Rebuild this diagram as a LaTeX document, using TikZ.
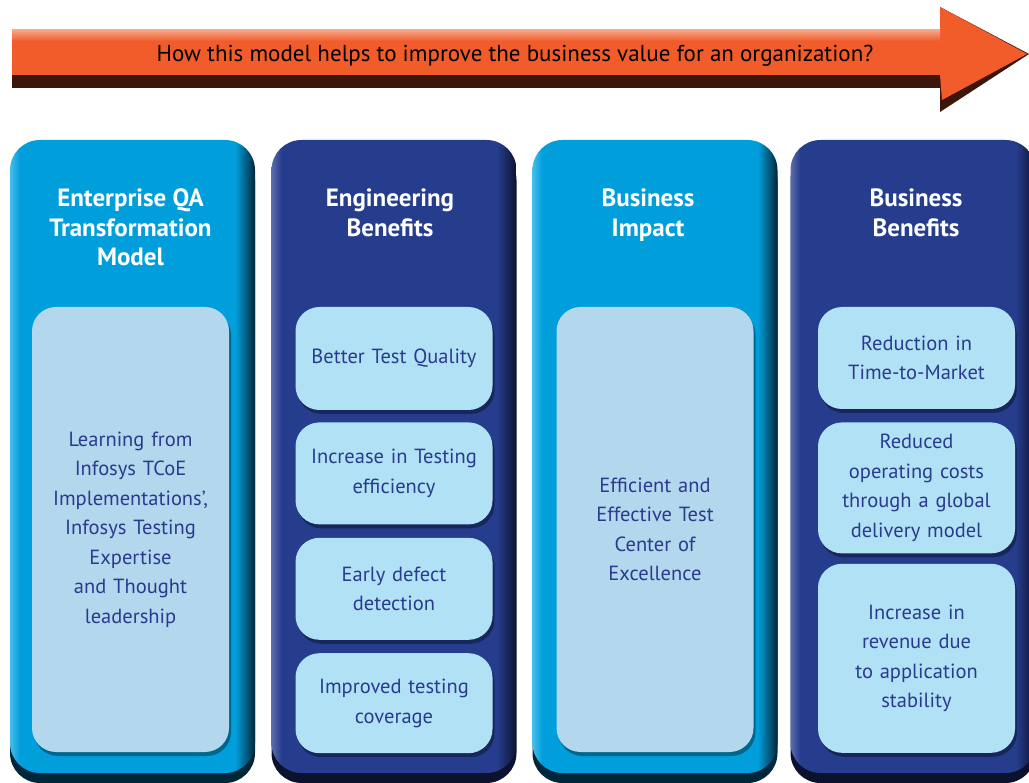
\documentclass[tikz,border=0pt]{standalone}
\usepackage{fontspec}
\setmainfont{PT Sans}
\usetikzlibrary{positioning,shadows}
\definecolor{arroworange}{RGB}{241,92,42}
\definecolor{arrowlight}{RGB}{246,165,135}
\definecolor{arrowdark}{RGB}{60,22,10}
\definecolor{cyanmain}{RGB}{0,158,219}
\definecolor{cyanedge}{RGB}{70,190,236}
\definecolor{cyandark}{RGB}{0,38,58}
\definecolor{navymain}{RGB}{38,61,141}
\definecolor{navyedge}{RGB}{92,108,172}
\definecolor{navydark}{RGB}{12,18,45}
\definecolor{palebox}{RGB}{179,215,236}
\definecolor{cyanbox}{RGB}{177,225,244}
\definecolor{boxtext}{RGB}{42,58,142}
\pgfdeclarehorizontalshading{cyancolumn}{100bp}{color(0bp)=(cyanedge); color(25bp)=(cyanedge); color(27bp)=(cyanmain); color(71bp)=(cyanmain); color(75bp)=(cyandark); color(100bp)=(cyandark)}
\pgfdeclarehorizontalshading{navycolumn}{100bp}{color(0bp)=(navyedge); color(25bp)=(navyedge); color(27bp)=(navymain); color(71bp)=(navymain); color(75bp)=(navydark); color(100bp)=(navydark)}

\begin{document}
\begin{tikzpicture}[x=1pt, y=-1pt,
    column/.style = {shade, rounded corners=30pt, minimum width=245pt, minimum height=633pt, inner sep=0pt},
    cyancol/.style = {column, shading=cyancolumn, drop shadow={shadow xshift=0pt, shadow yshift=-10pt, fill=cyandark, opacity=1}},
    navycol/.style = {column, shading=navycolumn, drop shadow={shadow xshift=0pt, shadow yshift=-10pt, fill=navydark, opacity=1}},
    header/.style = {text=white, font=\fontsize{25}{29.5}\selectfont\bfseries, align=center, inner sep=0pt},
    box/.style = {rounded corners=24pt, minimum width=197pt, text width=190pt, align=center, inner sep=0pt, text=boxtext, font=\fontsize{20.5}{29.5}\selectfont, drop shadow={shadow xshift=2pt, shadow yshift=-4pt, fill=black, opacity=0.35}},
    palefill/.style = {box, fill=palebox},
    cyanfill/.style = {box, fill=cyanbox}]
    \useasboundingbox (0,0) rectangle (1029,783);

    % question arrow
    \fill[arrowdark] (12,30) -- (940,30) -- (940,7) -- (1029,54) -- (940,112) -- (940,88) -- (12,88) -- cycle;
    \fill[arroworange] (12,30) -- (940,30) -- (940,7) -- (1027,54) -- (942,100) -- (940,75) -- (12,75) -- cycle;
    \fill[top color=arrowlight, bottom color=arroworange] (12,30) rectangle (940,41);
    \node (question) at (515,56) {\fontsize{23}{26}\selectfont How this model helps to improve the business value for an organization?};

    % columns
    \node[cyancol] (c1) at (132.5,456.5) {};
    \node[navycol] (c2) at (394,456.5) {};
    \node[cyancol] (c3) at (655,456.5) {};
    \node[navycol] (c4) at (913,456.5) {};

    \node[header, below=49pt of c1.north, xshift=-2pt] (h1) {Enterprise QA\\Transformation\\Model};
    \node[header, below=49pt of c2.north, xshift=-4pt] (h2) {Engineering\\Benefits};
    \node[header, below=49pt of c3.north, xshift=-7pt] (h3) {Business\\Impact};
    \node[header, below=49pt of c4.north, xshift=3pt] (h4) {Business\\Benefits};

    % inner boxes
    \node[palefill, minimum height=445pt] (m1) at (130.5,529.5) {Learning from\\Infosys TCoE\\Implementations’,\\Infosys Testing\\Expertise\\and Thought\\leadership};

    \node[cyanfill, minimum height=103pt] (e1) at (394,358.5) {Better Test Quality};
    \node[cyanfill, minimum height=102pt, below=12pt of e1] (e2) {Increase in Testing\\efficiency};
    \node[cyanfill, minimum height=102pt, below=13pt of e2] (e3) {Early defect\\detection};
    \node[cyanfill, minimum height=100pt, below=13pt of e3] (e4) {Improved testing\\coverage};

    \node[palefill, minimum height=445pt] (i1) at (655,529.5) {Efficient and\\Effective Test\\Center of\\Excellence};

    \node[cyanfill, minimum height=102pt] (b1) at (916.5,358) {Reduction in\\Time-to-Market};
    \node[cyanfill, minimum height=131pt, below=13pt of b1] (b2) {Reduced\\operating costs\\through a global\\delivery model};
    \node[cyanfill, minimum height=189pt, below=10pt of b2] (b3) {Increase in\\revenue due\\to application\\stability};
\end{tikzpicture}
\end{document}
